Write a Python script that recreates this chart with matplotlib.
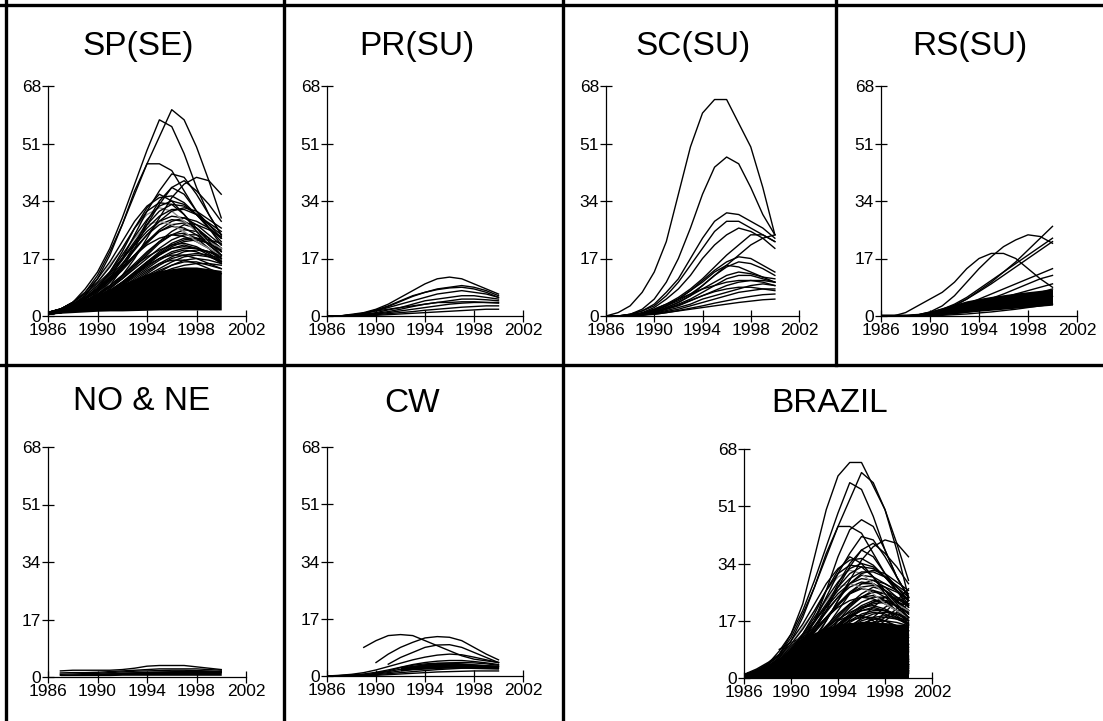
import numpy as np
import matplotlib
matplotlib.use("Agg")
import matplotlib.pyplot as plt
from matplotlib.lines import Line2D

nan = np.nan

# years of the series
years = list(range(1986, 2001))

# y / x ticks (same for every panel)
y_ticks = [0, 17, 34, 51, 68]
x_ticks = [1986, 1990, 1994, 1998, 2002]

# ---------------- SP(SE) ----------------
sp_top = [
    [1, 2, 4, 7, 12, 19, 27, 36, 45, 53, 61, 58, 50, 40, 29],
    [1, 2, 4, 8, 13, 20, 29, 39, 49, 58, 56, 48, 38, 30, 24],
    [1, 2, 3, 6, 11, 18, 27, 37, 45, 45, 43, 37, 31, 27, 23],
    [1, 1, 2, 4, 7, 11, 17, 24, 31, 37, 42, 41, 36, 30, 24],
    [0.5, 1, 2, 3, 5, 8, 12, 17, 23, 29, 35, 39, 41, 40, 36],
    [1, 1, 2, 3, 6, 9, 14, 20, 27, 33, 38, 40, 37, 33, 28],
    [1, 1, 2, 4, 6, 10, 15, 21, 28, 34, 38, 36, 31, 26, 21],
    [1, 2, 3, 5, 8, 13, 19, 26, 32, 36, 34, 30, 25, 21, 18],
    [1, 2, 3.5, 6, 9, 13, 18, 23.5, 28.5, 32.5, 34, 33, 30, 26, 22],
    [1, 2, 3.5, 5.5, 8.5, 12.5, 17, 22, 27, 31, 33, 32.5, 30, 27, 24],
    [1, 2, 4, 6.5, 10, 14.5, 20, 26, 31, 33.5, 33, 30, 26, 22, 18],
    [1, 1.5, 3, 5, 8, 12, 16.5, 21.5, 26, 29.5, 31.5, 31.5, 30, 27.5, 25],
    [1, 2, 3, 5, 7.5, 11, 15, 19.5, 24, 28, 31, 32, 31, 28.5, 26],
    [1, 2, 4, 7, 11, 16, 22, 28, 32.5, 35, 35.5, 33.5, 30, 26, 23],
]
sp_dense = [
    [1, 1.5, 2.5, 4, 6, 8.5, 11.5, 15, 18.5, 22, 25, 27, 26, 23, 19],
    [1, 2, 3, 5, 7.5, 10.5, 14, 18, 22, 25, 26.5, 26, 24, 21, 18],
    [0.5, 1, 2, 3.5, 5.5, 8, 11, 14.5, 18, 21.5, 24, 25.5, 25, 23, 20],
    [1, 2, 3.5, 5.5, 8, 11, 14.5, 18, 21, 23, 24, 23.5, 22, 20, 17],
    [1, 1.5, 2.5, 4, 6, 8.5, 11, 14, 17, 20, 22.5, 24, 24, 22.5, 20],
    [0.5, 1, 2, 3, 4.5, 6.5, 9, 12, 15, 18, 20.5, 22, 22.5, 21.5, 19.5],
    [1, 2, 3, 4.5, 6.5, 9, 12, 15, 17.5, 19.5, 21, 21.5, 20.5, 18.5, 16],
    [1, 1.5, 2.5, 3.5, 5, 7, 9.5, 12, 14.5, 17, 19, 20, 20, 19, 17],
    [0.5, 1, 1.5, 2.5, 4, 6, 8, 10.5, 13, 15.5, 17.5, 19, 19.5, 19, 18],
    [1, 1.5, 2.5, 4, 5.5, 7.5, 10, 12.5, 15, 17, 18, 18, 17, 15.5, 14],
    [0.5, 1, 1.5, 2.5, 3.5, 5, 7, 9, 11, 13, 15, 16.5, 17, 16.5, 15.5],
    [1, 1.5, 2, 3, 4.5, 6.5, 8.5, 11, 13.5, 15.5, 16.5, 16.5, 15.5, 14, 12.5],
    [0.5, 1, 2, 3, 4, 5.5, 7.5, 9.5, 11.5, 13.5, 15, 16, 16, 15, 14],
    [1, 2, 3, 4.5, 6.5, 9, 12, 15.5, 19, 22, 24, 24.5, 23, 20, 16],
    [1, 2, 3.5, 5.5, 8, 11.5, 15.5, 20, 24, 27, 28.5, 28, 26, 23, 20],
    [1, 2, 4, 6.5, 9.5, 13, 17, 21, 25, 28, 29.5, 29, 27, 24, 21],
    [1, 1.5, 3, 5, 7.5, 10.5, 14, 18, 22, 25.5, 28, 29, 28, 26, 23],
    [1, 2, 3, 5, 7, 10, 13.5, 17.5, 21.5, 25, 27, 27.5, 27, 25.5, 23.5],
    [0.5, 1, 2, 3.5, 5, 7, 9.5, 12.5, 15.5, 18.5, 21, 22.5, 23, 22.5, 21.5],
    [1, 1.5, 2.5, 4, 5.5, 7.5, 10, 13, 16, 18.5, 20, 20.5, 20, 19, 17.5],
    [0.5, 1, 1.5, 2.5, 3.5, 5, 6.5, 8.5, 10.5, 12.5, 14, 15, 15.5, 15.5, 15],
    [1, 1.5, 2.5, 3.5, 5, 7, 9.5, 12.5, 15.5, 18, 20, 21, 20, 18, 15.5],
    [1, 1.5, 2.5, 3.5, 5, 7, 9, 11.5, 14, 16.5, 18.5, 19.5, 19, 17.5, 16],
    [0.5, 1, 2, 3, 4.5, 6, 8, 10, 12.5, 15, 17, 18, 18.5, 18, 17],
    [1, 1.5, 2, 3, 4, 5.5, 7.5, 9.5, 12, 14, 16, 17.5, 18, 17.5, 16.5],
    [1, 2, 3, 4, 5.5, 7.5, 10, 13, 16, 19, 21.5, 23, 23, 21.5, 19],
]
sp_grey = [
    [1, 2, 4, 6.5, 10, 15, 20, 26, 30, 32, 31, 28, 25, 22, 20],
    [1, 2, 3.5, 6, 9, 13, 18, 23, 27, 28, 27, 25, 22, 20, 18],
]
# solid black mass of the many low curves
sp_mass_low = [0.5, 0.8, 1, 1.2, 1.4, 1.5, 1.5, 1.6, 1.7, 1.8, 1.8, 1.8, 1.8, 1.8, 1.8]
sp_mass_top = [1.5, 2.5, 3.5, 5, 6.5, 8, 9.5, 11, 12.5, 13.5, 14, 14.5, 14.5, 14, 13.5]

# ---------------- PR(SU) ----------------
pr_curves = [
    [0, 0, 0.5, 1, 2, 3.5, 5.5, 7.5, 9.5, 11, 11.5, 11, 9.5, 8, 6.5],
    [0, 0, 0.3, 0.8, 1.8, 3, 4.5, 6, 7, 8, 8.5, 9, 8.5, 7.5, 6],
    [0, 0, 0.3, 0.8, 1.6, 2.8, 4.3, 5.8, 7, 7.8, 8.3, 8.5, 8, 7, 5.5],
    [0, 0, 0.3, 0.7, 1.5, 2.5, 3.5, 4.5, 5.5, 6.5, 7, 7.5, 7, 6.5, 5.5],
    [0, 0, 0.2, 0.5, 1, 1.8, 2.5, 3.5, 4.5, 5, 5.5, 6, 6, 5.5, 5],
    [0, 0, 0.2, 0.4, 0.8, 1.3, 2, 2.8, 3.5, 4, 4.5, 5, 5, 4.8, 4.5],
    [0, 0, 0.1, 0.3, 0.6, 1, 1.5, 2, 2.5, 3, 3.5, 3.8, 4, 4, 3.8],
    [0, 0, 0.1, 0.2, 0.4, 0.7, 1, 1.3, 1.7, 2, 2.3, 2.6, 2.8, 3, 3],
    [0, 0, 0, 0.1, 0.2, 0.4, 0.6, 0.8, 1, 1.2, 1.4, 1.6, 1.8, 2, 2],
    [nan, nan, nan, nan, 1.5, 2, 2.5, 3, 3.5, 4, 4, 4.2, 4.2, 4, 4],
]

# ---------------- SC(SU) ----------------
sc_curves = [
    [0, 1, 3, 7, 13, 22, 36, 50, 60, 64, 64, 57, 50, 38, 24],
    [0, 0, 0.5, 2, 5, 10, 17, 26, 36, 44, 47, 45, 38, 30, 24],
    [0, 0, 0.5, 1.5, 3.5, 7, 11, 17, 23, 28, 30.5, 30, 28, 26, 23],
    [0, 0, 0.5, 1.5, 3, 6, 10, 15, 20, 25, 28, 28, 26, 24, 22],
    [0, 0, 0.3, 1, 2.5, 5, 8, 12, 17, 21, 24, 26, 25, 23, 20],
    [0, 0, 0.2, 0.6, 1.2, 2.5, 4, 6, 9, 12, 15, 18, 21, 23, 24],
    [0, 0, 0.2, 0.8, 2, 3.5, 5.5, 8, 11, 14.5, 18, 21, 24, 24, 22],
    [0, 0, 0.2, 0.8, 1.8, 3, 5, 7.5, 10.5, 13.5, 16, 17.5, 17, 15, 13],
    [0, 0, 0.2, 0.7, 1.5, 3, 4.5, 6.5, 9, 12, 14.5, 16, 15.5, 14, 12],
    [0, 0, 0.2, 0.6, 1.5, 3, 5, 7.5, 10, 13, 15, 14.5, 13, 11.5, 10],
    [0, 0, 0.1, 0.5, 1.2, 2.2, 3.5, 5, 7, 9, 11, 12, 12, 11, 10],
    [0, 0, 0.1, 0.4, 1, 2, 3, 4.5, 6, 7.5, 9, 10, 10.5, 10.5, 10],
    [0, 0, 0.1, 0.3, 0.8, 1.6, 2.5, 3.5, 5, 6, 7, 8, 9, 9.5, 9],
    [0, 0, 0.1, 0.3, 0.7, 1.3, 2, 3, 4, 5, 6, 7, 7.5, 8, 8],
    [0, 0, 0, 0.2, 0.5, 1, 1.6, 2.3, 3, 3.8, 4.5, 5.2, 5.8, 6.3, 6.5],
    [nan, nan, nan, nan, 0.5, 1, 1.5, 2, 2.5, 3, 3.5, 4, 4.4, 4.8, 5],
    [0, 0, 0.1, 0.5, 1.2, 2.5, 4, 6, 8, 10, 12, 13, 12.5, 11.5, 11],
    [0, 0, 0.1, 0.4, 1, 2, 3.2, 4.6, 6, 7.2, 8, 8.5, 8.5, 8, 7.5],
    [0, 0, 0.2, 0.8, 2, 3.5, 5, 6.5, 8, 9, 10, 10.5, 10.5, 10, 9],
]

# ---------------- RS(SU) ----------------
rs_curves = [
    [0, 0, 1, 3, 5, 7, 10, 14, 17, 18.5, 18.5, 17, 14, 11, 8.5],
    [0, 0, 0, 0.3, 1.2, 3, 6, 10, 14, 17.5, 20.5, 22.5, 24, 23.5, 21.5],
    [0, 0, 0, 0, 0.5, 1.5, 3, 5, 7.5, 10, 13, 16, 19.5, 23, 26.5],
    [0, 0, 0, 0.3, 1, 2, 3.5, 5.5, 8, 10.5, 13, 15.5, 18, 20.5, 23],
    [0, 0, 0, 0.2, 0.8, 1.8, 3.2, 5, 7.2, 9.5, 12, 14.5, 17, 19.5, 22],
    [0, 0, 0, 0.2, 0.6, 1.2, 2.2, 3.5, 5, 6.5, 8, 9.5, 11, 12.5, 14],
    [0, 0, 0, 0.2, 0.5, 1, 1.8, 2.8, 4, 5.2, 6.5, 8, 9.5, 11, 12],
    [0, 0, 0, 0.1, 0.4, 0.8, 1.4, 2.2, 3.2, 4.2, 5.3, 6.5, 7.5, 8.5, 9.5],
    [0, 0, 0, 0.1, 0.3, 0.6, 1, 1.6, 2.4, 3.2, 4, 5, 6, 7, 8],
    [0, 0, 0, 0.1, 0.2, 0.4, 0.7, 1.1, 1.6, 2.2, 2.8, 3.5, 4.2, 5, 5.8],
    [0, 0, 0, 0, 0.1, 0.2, 0.4, 0.6, 0.9, 1.2, 1.6, 2, 2.5, 3, 3.5],
]
rs_mass_low = [0, 0, 0, 0, 0.2, 0.5, 0.8, 1.1, 1.4, 1.7, 2, 2.3, 2.6, 2.9, 3.2]
rs_mass_top = [0.6, 0.6, 0.6, 0.8, 1.5, 2.5, 3.5, 4.5, 5.2, 5.8, 6.3, 6.8, 7.2, 7.6, 8]

# ---------------- NO & NE ----------------
no_curves = [
    [nan, 1.8, 2.0, 2.0, 2.0, 2.0, 2.2, 2.6, 3.2, 3.4, 3.4, 3.4, 3.0, 2.6, 2.2],
    [nan, 1.2, 1.3, 1.3, 1.4, 1.6, 1.8, 2.0, 2.2, 2.4, 2.4, 2.4, 2.4, 2.2, 2.0],
    [nan, 0.8, 0.9, 1.0, 1.1, 1.3, 1.5, 1.7, 1.8, 1.9, 2.0, 2.0, 1.9, 1.8, 1.6],
    [nan, 0.5, 0.6, 0.7, 0.8, 0.9, 1.0, 1.2, 1.3, 1.4, 1.5, 1.5, 1.5, 1.4, 1.3],
]
no_mass_low = [nan, 0.4, 0.4, 0.4, 0.4, 0.4, 0.5, 0.5, 0.5, 0.5, 0.5, 0.5, 0.5, 0.5, 0.5]
no_mass_top = [nan, 0.7, 0.8, 0.9, 1.1, 1.3, 1.5, 1.6, 1.7, 1.8, 1.9, 2.0, 2.0, 1.9, 1.9]

# ---------------- CW ----------------
cw_curves = [
    [nan, nan, nan, 8.5, 10.5, 12, 12.3, 12, 10.5, 9, 7.5, 6, 5, 4.5, 4],
    [nan, nan, nan, nan, 4, 6.5, 8.5, 10, 11.3, 11.7, 11.5, 10.5, 8.5, 6.5, 4.8],
    [nan, nan, nan, nan, nan, 3.5, 5.5, 7, 8.5, 9.2, 9.3, 8.5, 7, 5.5, 4],
    [0, 0.2, 0.5, 1, 1.8, 2.8, 3.8, 4.8, 5.6, 6.2, 6.5, 6.3, 5.6, 4.8, 4],
    [0, 0.1, 0.3, 0.6, 1.1, 1.8, 2.6, 3.4, 4, 4.4, 4.6, 4.6, 4.3, 3.9, 3.4],
    [0, 0.1, 0.2, 0.4, 0.8, 1.3, 2, 2.7, 3.3, 3.7, 3.9, 4, 3.9, 3.6, 3.2],
    [0, 0, 0.1, 0.3, 0.6, 1, 1.5, 2, 2.5, 2.8, 3, 3.1, 3.1, 3, 2.8],
    [0, 0, 0.1, 0.2, 0.4, 0.7, 1, 1.3, 1.6, 1.9, 2.1, 2.3, 2.4, 2.4, 2.3],
    [0, 0, 0, 0.1, 0.2, 0.4, 0.6, 0.8, 1, 1.2, 1.3, 1.4, 1.5, 1.5, 1.5],
    [nan, nan, nan, nan, 1, 1.5, 2.5, 3.2, 3.6, 3.8, 3.8, 3.6, 3.3, 3, 2.8],
]
cw_mass_low = [nan, nan, nan, nan, nan, nan, 1.5, 1.8, 2, 2.2, 2.3, 2.3, 2.2, 2.1, 2]
cw_mass_top = [nan, nan, nan, nan, nan, nan, 2.8, 3.2, 3.6, 3.8, 3.9, 3.8, 3.6, 3.4, 3.2]

# ---------------- BRAZIL (all municipalities) ----------------
br_mass_low = [0, 0, 0, 0, 0, 0, 0, 0, 0, 0, 0, 0, 0, 0, 0]
br_mass_top = [1.5, 3, 5, 7.5, 10, 12, 13.5, 15, 16, 16.5, 16.5, 16.5, 16.5, 16, 16]

titles = ["SP(SE)", "PR(SU)", "SC(SU)", "RS(SU)", "NO & NE", "CW", "BRAZIL"]

# figure 1103 x 721 px
fig = plt.figure(figsize=(11.03, 7.21), dpi=100)
W, H = 1103.0, 721.0


def add_panel(x0, x1, y_top, y_zero):
    # pixel box -> figure fraction
    return fig.add_axes([x0 / W, 1 - y_zero / H, (x1 - x0) / W, (y_zero - y_top) / H])


def style(ax):
    ax.set_xlim(1986, 2002)
    ax.set_ylim(0, 68)
    ax.set_xticks(x_ticks)
    ax.set_yticks(y_ticks)
    ax.spines["top"].set_visible(False)
    ax.spines["right"].set_visible(False)
    for s in ["left", "bottom"]:
        ax.spines[s].set_linewidth(0.9)
    ax.tick_params(direction="inout", length=8, width=0.9, pad=1,
                   labelsize=12.5, colors="black")
    for lab in ax.get_xticklabels() + ax.get_yticklabels():
        lab.set_fontfamily("Liberation Sans")
    ax.patch.set_alpha(0)


def draw_lines(ax, curves, color="black", lw=1.0):
    for c in curves:
        ax.plot(years, c, color=color, lw=lw, solid_joinstyle="round")


def draw_mass(ax, low, top):
    ax.fill_between(years, low, top, color="black", lw=0)


ax_sp = add_panel(48, 246, 86, 316)
ax_pr = add_panel(327, 523, 86, 316)
ax_sc = add_panel(606, 799, 86, 316)
ax_rs = add_panel(881, 1077, 86, 316)
ax_no = add_panel(48, 246, 447, 677)
ax_cw = add_panel(327, 523, 447, 676)
ax_br = add_panel(744, 932, 449, 678)

# SP
draw_mass(ax_sp, sp_mass_low, sp_mass_top)
draw_lines(ax_sp, sp_dense)
draw_lines(ax_sp, sp_grey, color="#8a8a8a")
draw_lines(ax_sp, sp_top)

# PR
draw_lines(ax_pr, pr_curves)

# SC
draw_lines(ax_sc, sc_curves)

# RS
draw_mass(ax_rs, rs_mass_low, rs_mass_top)
draw_lines(ax_rs, rs_curves)

# NO & NE
draw_mass(ax_no, no_mass_low, no_mass_top)
draw_lines(ax_no, no_curves)

# CW
draw_mass(ax_cw, cw_mass_low, cw_mass_top)
draw_lines(ax_cw, cw_curves)

# Brazil = everything together
draw_mass(ax_br, br_mass_low, br_mass_top)
for group in [sp_dense, pr_curves, sc_curves, rs_curves, no_curves, cw_curves]:
    draw_lines(ax_br, group)
draw_lines(ax_br, sp_grey, color="#8a8a8a")
draw_lines(ax_br, sp_top)

for ax in [ax_sp, ax_pr, ax_sc, ax_rs, ax_no, ax_cw, ax_br]:
    style(ax)

# panel titles
title_pos = [(138, 47), (417, 47), (693, 47), (970, 47), (142, 402), (412, 403), (830, 403)]
for t, (tx, ty) in zip(titles, title_pos):
    fig.text(tx / W, 1 - ty / H, t, ha="center", va="center",
             fontsize=24, fontfamily="Liberation Sans")

# panel frame lines
frame = [
    ((0, W), (5, 5)),          # top
    ((6, 6), (0, H)),          # left
    ((0, W), (365, 365)),      # middle
    ((284, 284), (0, H)),
    ((563, 563), (0, H)),
    ((836, 836), (0, 365)),
]
for xs, ys in frame:
    fig.add_artist(Line2D([x / W for x in xs], [1 - y / H for y in ys],
                          color="black", lw=2.4, transform=fig.transFigure))

fig.savefig("out.png", dpi=100, facecolor="white")
